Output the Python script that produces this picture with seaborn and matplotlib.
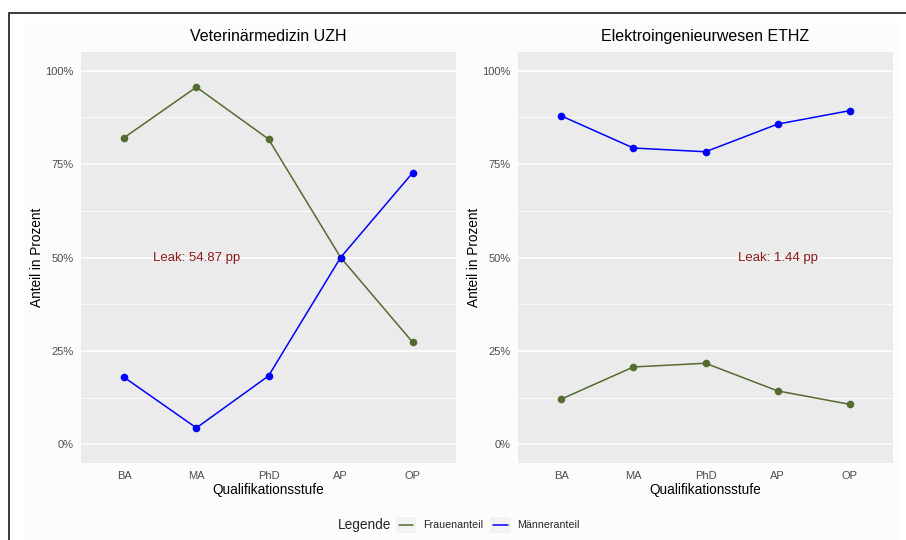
import matplotlib
matplotlib.use("Agg")
import matplotlib.pyplot as plt
from matplotlib.lines import Line2D
from matplotlib.patches import Rectangle
from matplotlib.legend_handler import HandlerBase
import seaborn as sns
import pandas as pd

# ---- data ----
stufen = ["BA", "MA", "PhD", "AP", "OP"]
vet_frauen = [82.1, 95.6, 81.7, 50.0, 27.3]
vet_maenner = [17.9, 4.4, 18.3, 50.0, 72.7]
ele_frauen = [12.1, 20.7, 21.7, 14.3, 10.7]
ele_maenner = [87.9, 79.3, 78.3, 85.7, 89.3]
titles = ["Veterinärmedizin UZH", "Elektroingenieurwesen ETHZ"]
leak_texts = ["Leak: 54.87 pp", "Leak: 1.44 pp"]
leak_pos = ["MA", "AP"]
series_names = ["Frauenanteil", "Männeranteil"]
y_ticks = [0, 25, 50, 75, 100]
y_tick_labels = ["0%", "25%", "50%", "75%", "100%"]

colors = {"Frauenanteil": "#556B2F", "Männeranteil": "#0000FF"}

def long_df(fr, ma):
    return pd.DataFrame({
        "Stufe": stufen * 2,
        "Anteil": fr + ma,
        "Legende": [series_names[0]] * len(stufen) + [series_names[1]] * len(stufen),
    })

data = [long_df(vet_frauen, vet_maenner), long_df(ele_frauen, ele_maenner)]

sns.set_theme(style="darkgrid")
plt.rcParams["font.family"] = ["Liberation Sans", "DejaVu Sans"]

fig = plt.figure(figsize=(9.06, 5.4), dpi=100)
fig.patch.set_facecolor("white")

W, H = 906, 540
def fx(px): return px / W
def fy(py): return 1 - py / H

# subtle plot background and frame
fig.add_artist(Rectangle((fx(25), 0), fx(898) - fx(25), fy(23), transform=fig.transFigure,
                         facecolor="#FCFCFC", edgecolor="none", zorder=-10))
fig.add_artist(Line2D([fx(9), 1.0], [fy(12.5), fy(12.5)], transform=fig.transFigure,
                      color="#3A3A3A", lw=1.4))
fig.add_artist(Line2D([fx(9), fx(9)], [fy(12.5), 0], transform=fig.transFigure,
                      color="#3A3A3A", lw=1.4))

panel_x = [81, 518]
axes = []
for i in range(2):
    ax = fig.add_axes([fx(panel_x[i]), fy(463), 375 / W, 411 / H])
    axes.append(ax)
    ax.set_facecolor("#EBEBEB")
    sns.lineplot(data=data[i], x="Stufe", y="Anteil", hue="Legende",
                 hue_order=series_names, palette=colors, marker="o",
                 markersize=5.5, markeredgewidth=0, linewidth=1.1,
                 sort=False, ax=ax, legend=(i == 0))
    ax.set_xlim(-0.6, len(stufen) - 0.4)
    ax.set_ylim(-5, 105)
    ax.set_yticks(y_ticks)
    ax.set_yticklabels(y_tick_labels)
    ax.set_yticks([12.5, 37.5, 62.5, 87.5], minor=True)
    ax.grid(False)
    ax.grid(axis="y", which="major", color="white", lw=1.1)
    ax.grid(axis="y", which="minor", color="white", lw=0.55)
    for s in ax.spines.values():
        s.set_visible(False)
    ax.tick_params(axis="both", which="major", length=3, width=0.8, color="#333333",
                   labelcolor="#4D4D4D", labelsize=8.0, pad=2.5)
    ax.tick_params(axis="both", which="minor", length=0)
    ax.set_xlabel("Qualifikationsstufe", fontsize=9.8, color="black", labelpad=2)
    ax.set_ylabel("Anteil in Prozent", fontsize=9.8, color="black", labelpad=0.5)
    ax.set_title(titles[i], fontsize=11.5, color="black", pad=8)
    ax.text(stufen.index(leak_pos[i]), 50, leak_texts[i], color="#8B1A1A",
            fontsize=9.5, ha="center", va="center")

handles, labels = axes[0].get_legend_handles_labels()
axes[0].get_legend().remove()


class KeyHandler(HandlerBase):
    def create_artists(self, legend, orig_handle, xdescent, ydescent, width, height,
                       fontsize, trans):
        bg = Rectangle((-xdescent, -ydescent), width, height, facecolor="#F2F2F2",
                       edgecolor="none", transform=trans)
        ymid = -ydescent + height / 2
        ln = Line2D([-xdescent + 0.15 * width, -xdescent + 0.85 * width], [ymid, ymid],
                    color=orig_handle.get_color(), lw=1.1, transform=trans)
        return [bg, ln]


key_handles = [Line2D([], [], color=colors[lab]) for lab in series_names]

fig.text(fx(338), fy(525), "Legende", fontsize=9.8, ha="left", va="center")
leg = fig.legend(key_handles, series_names, handler_map={Line2D: KeyHandler()},
                 loc="center left", bbox_to_anchor=(fx(396), fy(525)), ncol=2, frameon=False,
                 fontsize=7.7, handlelength=1.9, handleheight=1.9, handletextpad=0.6,
                 columnspacing=0.7, borderpad=0, borderaxespad=0)

fig.savefig("out.png", dpi=100)
